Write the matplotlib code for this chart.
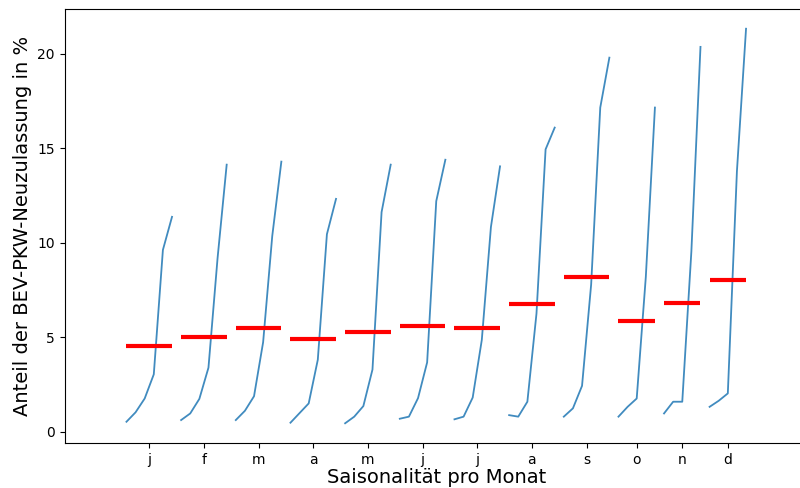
import numpy as np
import matplotlib
matplotlib.use("Agg")
import matplotlib.pyplot as plt

# -------- DATA (share of BEV in new car registrations, per month, by year) --------
month_labels = ["j", "f", "m", "a", "m", "j", "j", "a", "s", "o", "n", "d"]

jan = [0.54, 1.04, 1.77, 3.05, 9.63, 11.38]
feb = [0.63, 0.98, 1.75, 3.40, 9.20, 14.14]
mar = [0.63, 1.12, 1.89, 4.75, 10.36, 14.30]
apr = [0.49, 1.00, 1.51, 3.82, 10.46, 12.33]
may = [0.46, 0.81, 1.37, 3.30, 11.63, 14.14]
jun = [0.70, 0.81, 1.79, 3.68, 12.21, 14.40]
jul = [0.67, 0.81, 1.82, 4.87, 10.84, 14.05]
aug = [0.89, 0.81, 1.60, 6.26, 14.95, 16.10]
sep = [0.81, 1.25, 2.44, 7.80, 17.16, 19.80]
oct_ = [0.81, 1.33, 1.77, 8.20, 17.16]
nov = [0.98, 1.60, 1.60, 9.55, 20.37]
dec = [1.33, 1.65, 2.04, 13.80, 21.33]

months = [jan, feb, mar, apr, may, jun, jul, aug, sep, oct_, nov, dec]

# -------- PLOT (month plot style) --------
fig = plt.figure(figsize=(8, 4.88), dpi=100)
ax = fig.add_axes([64.5 / 800, 1 - 443 / 488, (808 - 64.5) / 800, (443 - 9) / 488])

start = 0
ticks = []
for vals in months:
    vals = np.array(vals)
    x = np.arange(start, start + len(vals))
    ticks.append(x.mean())
    ax.plot(x, vals, color="C0", linewidth=1.3, alpha=0.85)
    ax.hlines(vals.mean(), x[0], x[-1], colors="r", linewidth=3)
    start += len(vals)

ax.set_xticks(ticks)
ax.set_xticklabels(month_labels)
ax.margins(0.1, 0.05)
ax.set_ylabel("Anteil der BEV-PKW-Neuzulassung in %", fontsize=14)
ax.set_xlabel("Saisonalität pro Monat", fontsize=14, labelpad=1)

fig.savefig("out.png", dpi=100)
